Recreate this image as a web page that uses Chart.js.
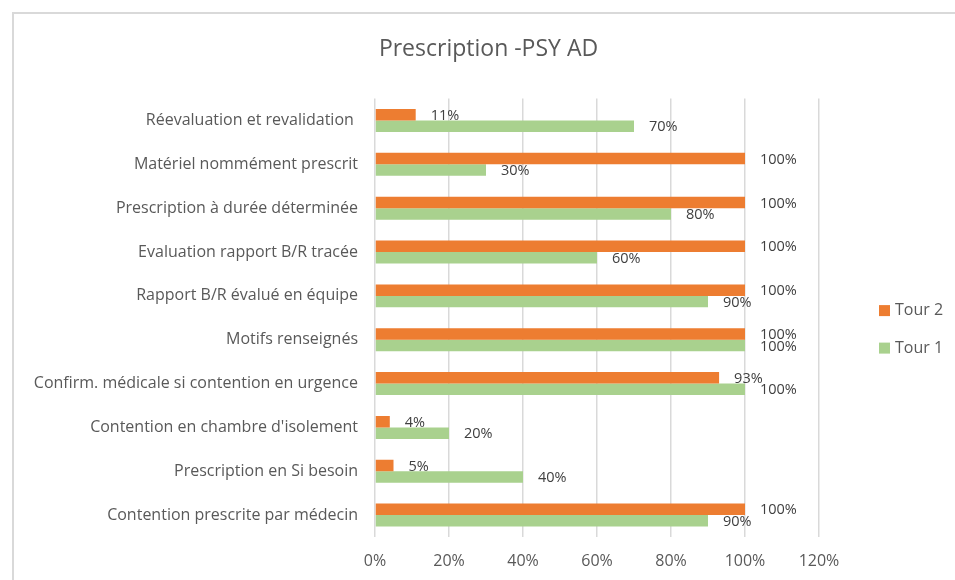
<!DOCTYPE html>
<html>
<head>
<meta charset="utf-8">
<script src="https://cdn.jsdelivr.net/npm/chart.js@4.4.1/dist/chart.umd.min.js"></script>
<style>
  html, body { margin: 0; padding: 0; background: #fff; overflow: hidden; }
  #wrap { position: relative; width: 955px; height: 580px; }
  #frame { position: absolute; left: 12px; top: 12px; width: 980px; height: 620px;
           border-left: 2px solid #d9d9d9; border-top: 2px solid #d9d9d9; }
  canvas { position: absolute; left: 0; top: 0; }
</style>
</head>
<body>
<div id="wrap">
  <div id="frame"></div>
  <canvas id="chart" width="955" height="580"></canvas>
</div>
<script>
// categories, top to bottom
const categories = [
  'Réevaluation et revalidation ',
  'Matériel nommément prescrit',
  'Prescription à durée déterminée',
  'Evaluation rapport B/R tracée',
  'Rapport B/R évalué en équipe',
  'Motifs renseignés',
  'Confirm. médicale si contention en urgence',
  "Contention en chambre d'isolement",
  'Prescription en Si besoin',
  'Contention prescrite par médecin'
];
const tour2 = [11, 100, 100, 100, 100, 100, 93, 4, 5, 100];
const tour1 = [70, 30, 80, 60, 90, 100, 100, 20, 40, 90];
const xTicks = [0, 20, 40, 60, 80, 100, 120];

const FONT = "'Open Sans', sans-serif";

// étiquettes de valeurs au bout des barres
const valueLabels = {
  id: 'valueLabels',
  afterDatasetsDraw(chart) {
    const ctx = chart.ctx;
    ctx.save();
    ctx.font = '14.5px ' + FONT;
    ctx.fillStyle = '#404040';
    ctx.textBaseline = 'middle';
    ctx.textAlign = 'left';
    chart.data.datasets.forEach((ds, i) => {
      chart.getDatasetMeta(i).data.forEach((bar, j) => {
        ctx.fillText(ds.data[j] + '%', bar.x + 15, bar.y + 1);
      });
    });
    ctx.restore();
  }
};

// légende à droite + titre centré sur toute la largeur
const sideLegend = {
  id: 'sideLegend',
  afterLayout(chart) {
    if (chart.titleBlock) {
      chart.titleBlock.left = 0;
      chart.titleBlock.right = 977;
    }
  },
  afterDraw(chart) {
    const ctx = chart.ctx;
    const x = chart.chartArea.right + 60;
    let y = chart.chartArea.top + 212;
    ctx.save();
    ctx.font = '16px ' + FONT;
    ctx.textBaseline = 'middle';
    chart.data.datasets.forEach(ds => {
      ctx.fillStyle = ds.backgroundColor;
      ctx.fillRect(x, y - 5.5, 11, 11);
      ctx.fillStyle = '#595959';
      ctx.fillText(ds.label, x + 16, y);
      y += 37.5;
    });
    ctx.restore();
  }
};

new Chart(document.getElementById('chart'), {
  type: 'bar',
  data: {
    labels: categories,
    datasets: [
      { label: 'Tour 2', data: tour2, backgroundColor: '#ED7D31' },
      { label: 'Tour 1', data: tour1, backgroundColor: '#A9D18E' }
    ]
  },
  options: {
    indexAxis: 'y',
    responsive: false,
    animation: false,
    layout: { padding: { right: 136, left: 0, top: 0, bottom: 0 } },
    datasets: { bar: { categoryPercentage: 0.524, barPercentage: 1 } },
    plugins: {
      legend: { display: false },
      tooltip: { enabled: false },
      title: {
        display: true,
        text: 'Prescription -PSY AD',
        color: '#595959',
        font: { family: FONT, size: 23, weight: 'normal' },
        padding: { top: 36, bottom: 35 }
      }
    },
    scales: {
      x: {
        min: 0,
        max: 120,
        afterBuildTicks(scale) { scale.ticks = xTicks.map(v => ({ value: v })); },
        afterFit(scale) { scale.height = 43; },
        ticks: {
          color: '#595959',
          font: { family: FONT, size: 16 },
          padding: 15,
          callback: v => v + '%'
        },
        grid: { color: '#d9d9d9', lineWidth: 1.5, drawTicks: false },
        border: { display: false }
      },
      y: {
        afterFit(scale) { scale.width = 375; },
        ticks: {
          color: '#595959',
          font: { family: FONT, size: 16 },
          padding: 17
        },
        grid: { display: false, drawTicks: false },
        border: { display: false }
      }
    }
  },
  plugins: [valueLabels, sideLegend]
});
</script>
</body>
</html>
